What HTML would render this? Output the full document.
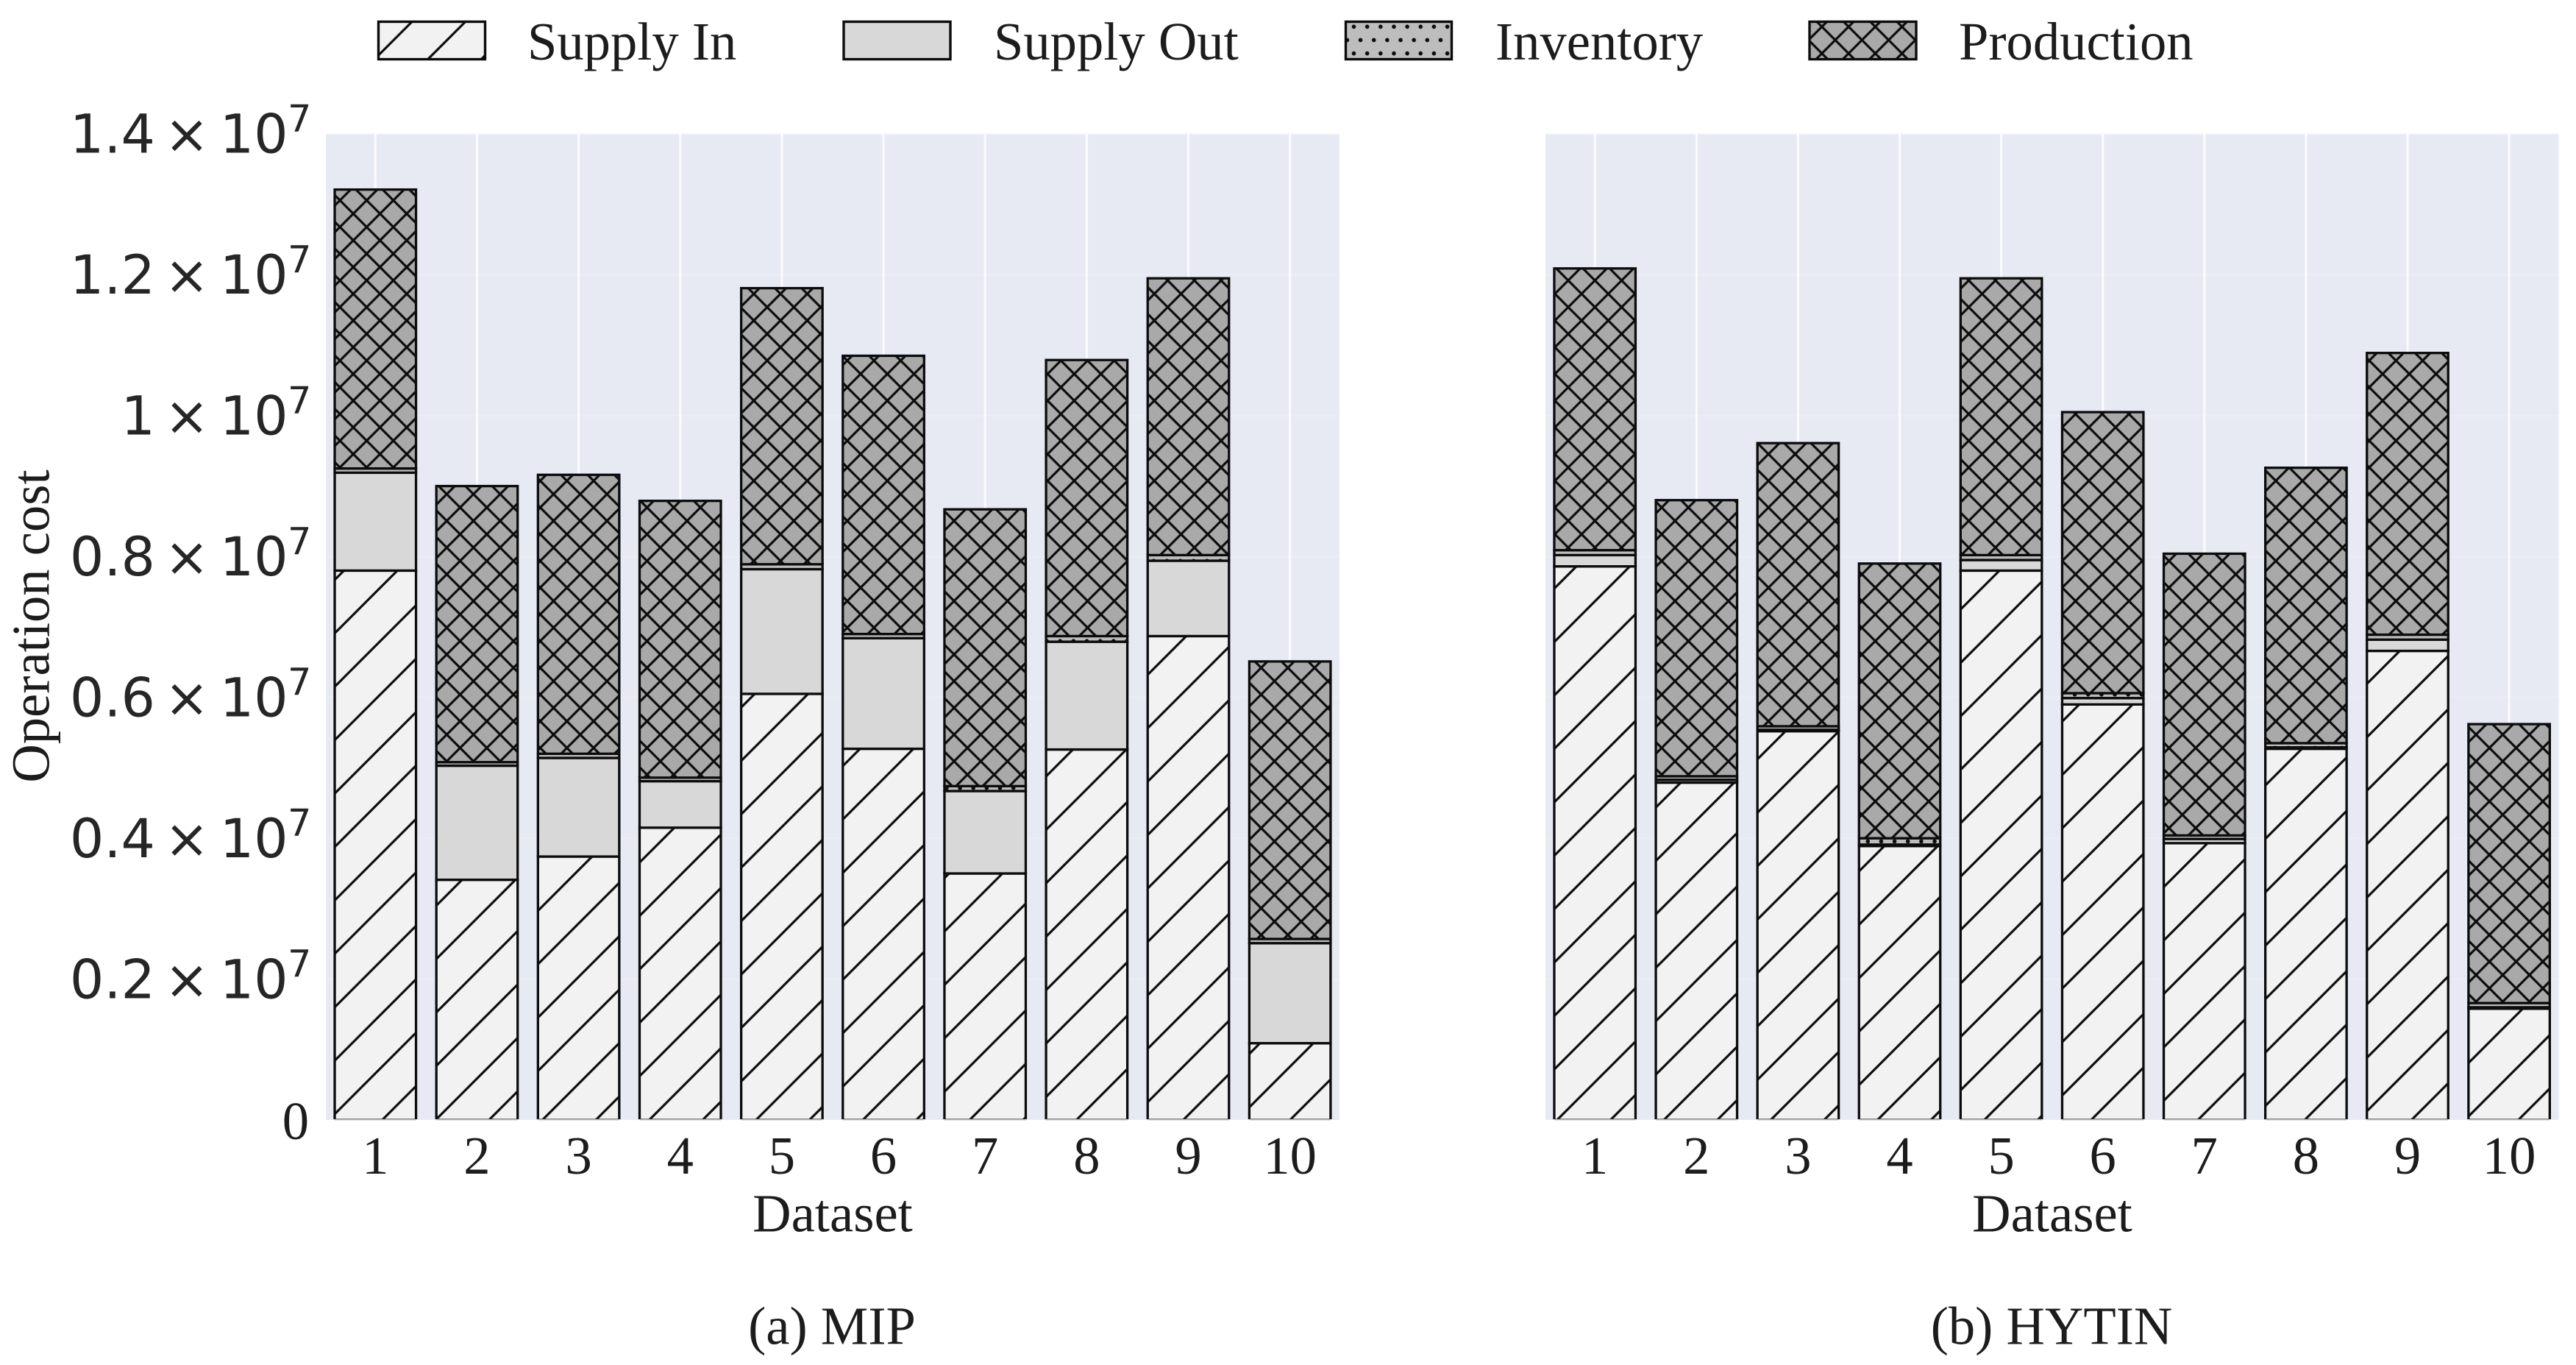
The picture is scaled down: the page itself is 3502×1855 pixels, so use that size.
<!DOCTYPE html>
<html lang="en">
<head>
<meta charset="utf-8">
<title>Operation cost by dataset: MIP vs HYTIN</title>
<style>
  html, body { margin: 0; padding: 0; background: #ffffff; }
  #figure { display: block; }
  .serif { font-family: "Liberation Serif", serif; font-size: 72.6px; fill: #1c1c1c; }
  .sans  { font-family: "DejaVu Sans", sans-serif; font-size: 73px; fill: #262626; }
  .sup   { font-family: "DejaVu Sans", sans-serif; font-size: 51px; fill: #262626; }
</style>
</head>
<body>
<svg id="figure" xmlns="http://www.w3.org/2000/svg" width="3502" height="1855" viewBox="0 0 3502 1855">
  <defs>
    <pattern id="hatch-in" patternUnits="userSpaceOnUse" x="8.8" y="0" width="72.6" height="72.6">
      <rect width="72.6" height="72.6" fill="#f2f2f2"/>
      <g stroke="#0c0c0c" stroke-width="3.2">
        <line x1="-10" y1="82.6" x2="82.6" y2="-10"/>
        <line x1="-10" y1="10" x2="10" y2="-10"/>
        <line x1="62.6" y1="82.6" x2="82.6" y2="62.6"/>
      </g>
    </pattern>
    <pattern id="hatch-inv" patternUnits="userSpaceOnUse" x="7.35" y="0" width="18.15" height="36.3">
      <rect width="18.15" height="36.3" fill="#bdbdbd"/>
      <g fill="#0c0c0c">
        <circle cx="0" cy="0" r="2.8"/>
        <circle cx="18.15" cy="0" r="2.8"/>
        <circle cx="0" cy="36.3" r="2.8"/>
        <circle cx="18.15" cy="36.3" r="2.8"/>
        <circle cx="9.07" cy="18.15" r="2.8"/>
      </g>
    </pattern>
    <pattern id="hatch-prod" patternUnits="userSpaceOnUse" x="8.4" y="0" width="36.3" height="36.3">
      <rect width="36.3" height="36.3" fill="#a9a9a9"/>
      <g stroke="#0c0c0c" stroke-width="3.2">
        <line x1="-6" y1="42.3" x2="42.3" y2="-6"/>
        <line x1="-6" y1="6" x2="6" y2="-6"/>
        <line x1="30.3" y1="42.3" x2="42.3" y2="30.3"/>
        <line x1="-6" y1="-6" x2="42.3" y2="42.3"/>
        <line x1="-6" y1="30.3" x2="6" y2="42.3"/>
        <line x1="30.3" y1="-6" x2="42.3" y2="6"/>
      </g>
    </pattern>
    <clipPath id="clip-mip"><rect x="443" y="182" width="1378" height="1339"/></clipPath>
    <clipPath id="clip-hytin"><rect x="2101" y="182" width="1377.5" height="1339"/></clipPath>
  </defs>

  <g>
    <g>
      <rect x="514.5" y="29.5" width="145" height="51" fill="url(#hatch-in)" stroke="#0c0c0c" stroke-width="3.4"/>
      <text class="serif" x="717" y="81">Supply In</text>
    </g>
    <g>
      <rect x="1147" y="29.5" width="145" height="51" fill="#d8d8d8" stroke="#0c0c0c" stroke-width="3.4"/>
      <text class="serif" x="1351" y="81">Supply Out</text>
    </g>
    <g>
      <rect x="1829.5" y="29.5" width="144" height="51" fill="url(#hatch-inv)" stroke="#0c0c0c" stroke-width="3.4"/>
      <text class="serif" x="2033" y="81">Inventory</text>
    </g>
    <g>
      <rect x="2460" y="29.5" width="145" height="51" fill="url(#hatch-prod)" stroke="#0c0c0c" stroke-width="3.4"/>
      <text class="serif" x="2663" y="81">Production</text>
    </g>
  </g>

  <g id="panel-mip"></g>
  <g id="panel-hytin"></g>
  <g id="y-ticks"></g>

  <text class="serif" text-anchor="middle" transform="translate(66.7 851) rotate(-90)">Operation cost</text>
  <text class="serif" text-anchor="middle" x="1132" y="1673.5">Dataset</text>
  <text class="serif" text-anchor="middle" x="2790" y="1673.5">Dataset</text>
  <text class="serif" text-anchor="middle" x="1131" y="1826.5">(a) MIP</text>
  <text class="serif" text-anchor="middle" x="2789" y="1826.5">(b) HYTIN</text>
</svg>

<script>
const categories = [1, 2, 3, 4, 5, 6, 7, 8, 9, 10];
const yTickValues = [0, 2000000, 4000000, 6000000, 8000000, 10000000, 12000000, 14000000];
const yTickLabels = ['0', '0.2', '0.4', '0.6', '0.8', '1', '1.2', '1.4'];

const mipSupplyIn     = [7800000, 3410000, 3740000, 4150000, 6050000, 5270000, 3500000, 5260000, 6870000, 1090000];
const mipSupplyOut    = [1390000, 1620000, 1400000,  660000, 1770000, 1570000, 1170000, 1530000, 1070000, 1420000];
const mipInventory    = [  60000,   50000,   60000,   50000,   70000,   60000,   70000,   80000,   80000,   60000];
const mipProduction   = [3960000, 3920000, 3960000, 3930000, 3920000, 3950000, 3930000, 3920000, 3930000, 3940000];

const hytinSupplyIn   = [7860000, 4790000, 5520000, 3890000, 7800000, 5900000, 3930000, 5270000, 6660000, 1580000];
const hytinSupplyOut  = [ 160000,   40000,   20000,   20000,  150000,   90000,   60000,   20000,  160000,   20000];
const hytinInventory  = [  70000,   50000,   50000,   90000,   70000,   70000,   50000,   60000,   70000,   60000];
const hytinProduction = [4000000, 3920000, 4020000, 3900000, 3930000, 3990000, 4000000, 3910000, 4000000, 3960000];

const SVG_NS = 'http://www.w3.org/2000/svg';
const Y_MAX = 14000000;
const PLOT_TOP = 182;
const PLOT_BOTTOM = 1522;
const BAR_WIDTH = 0.8;

function yScale(value) {
  return PLOT_BOTTOM - (value / Y_MAX) * (PLOT_BOTTOM - PLOT_TOP);
}
function xScale(panel, category) {
  return panel.firstCenter + (category - 1) * panel.pitch;
}
function make(tag, attrs, parent) {
  const el = document.createElementNS(SVG_NS, tag);
  for (const key in attrs) el.setAttribute(key, attrs[key]);
  parent.appendChild(el);
  return el;
}

const mipPanel = {
  key: 'mip', groupId: 'panel-mip', clip: 'clip-mip',
  left: 443, right: 1821, firstCenter: 510.3, pitch: 138.15,
  layers: [
    { name: 'supply-in',  values: mipSupplyIn,   fill: 'url(#hatch-in)' },
    { name: 'supply-out', values: mipSupplyOut,  fill: '#d8d8d8' },
    { name: 'inventory',  values: mipInventory,  fill: 'url(#hatch-inv)' },
    { name: 'production', values: mipProduction, fill: 'url(#hatch-prod)' }
  ]
};
const hytinPanel = {
  key: 'hytin', groupId: 'panel-hytin', clip: 'clip-hytin',
  left: 2101, right: 3478.5, firstCenter: 2168.2, pitch: 138.1,
  layers: [
    { name: 'supply-in',  values: hytinSupplyIn,   fill: 'url(#hatch-in)' },
    { name: 'supply-out', values: hytinSupplyOut,  fill: '#d8d8d8' },
    { name: 'inventory',  values: hytinInventory,  fill: 'url(#hatch-inv)' },
    { name: 'production', values: hytinProduction, fill: 'url(#hatch-prod)' }
  ]
};

function drawPanel(panel) {
  const root = document.getElementById(panel.groupId);

  const bg = make('rect', { x: panel.left, y: PLOT_TOP, width: panel.right - panel.left, height: PLOT_BOTTOM - PLOT_TOP, fill: '#e8eaf3' }, root);
  
  

  yTickValues.forEach(function (tick) {
    if (tick === 0) return;
    const line = make('line', { x1: panel.left, x2: panel.right, y1: yScale(tick), y2: yScale(tick), stroke: '#ffffff', 'stroke-opacity': '0.14', 'stroke-width': '3' }, root);
    
    
  });
  categories.forEach(function (cat) {
    const cx = xScale(panel, cat);
    const line = make('line', { x1: cx, x2: cx, y1: PLOT_TOP, y2: PLOT_BOTTOM, stroke: '#fbfbfe', 'stroke-width': '3' }, root);
    
    
  });

  const bars = make('g', { 'clip-path': 'url(#' + panel.clip + ')' }, root);
  
  

  const halfWidth = (BAR_WIDTH * panel.pitch) / 2;
  categories.forEach(function (cat, i) {
    let cumulative = 0;
    const cx = xScale(panel, cat);
    panel.layers.forEach(function (layer) {
      const value = layer.values[i];
      const yTop = yScale(cumulative + value);
      const yBottom = yScale(cumulative);
      cumulative += value;
      const rect = make('rect', {
        x: cx - halfWidth, y: yTop, width: 2 * halfWidth, height: yBottom - yTop,
        fill: layer.fill, stroke: '#0c0c0c', 'stroke-width': '3.3'
      }, bars);
      
      
    });

    const baseEdge = make('line', { x1: cx - halfWidth, x2: cx + halfWidth, y1: PLOT_BOTTOM - 0.4, y2: PLOT_BOTTOM - 0.4, stroke: '#b5b5b5', 'stroke-width': '1.6' }, root);
    
    

    const label = make('text', { x: cx, y: 1595, 'text-anchor': 'middle', class: 'serif' }, root);
    
    
    label.textContent = String(cat);
  });
}

function drawYTicks() {
  const root = document.getElementById('y-ticks');
  yTickValues.forEach(function (tick, i) {
    const y = yScale(tick);
    const group = make('g', {}, root);
    
    
    if (tick === 0) {
      const zero = make('text', { x: 420, y: y + 26, 'text-anchor': 'end', class: 'serif' }, group);
      zero.textContent = yTickLabels[i];
      return;
    }
    const mantissa = make('text', { x: 211, y: y + 25.7, 'text-anchor': 'end', class: 'sans' }, group);
    mantissa.textContent = yTickLabels[i];
    const times = make('text', { x: 254, y: y + 25.7, 'text-anchor': 'middle', class: 'sans' }, group);
    times.textContent = '\u00D7';
    const base = make('text', { x: 298.7, y: y + 25.7, class: 'sans' }, group);
    base.textContent = '10';
    const exponent = make('text', { x: 391, y: y - 3, class: 'sup' }, group);
    exponent.textContent = '7';
  });
}

drawPanel(mipPanel);
drawPanel(hytinPanel);
drawYTicks();
</script>
</body>
</html>
